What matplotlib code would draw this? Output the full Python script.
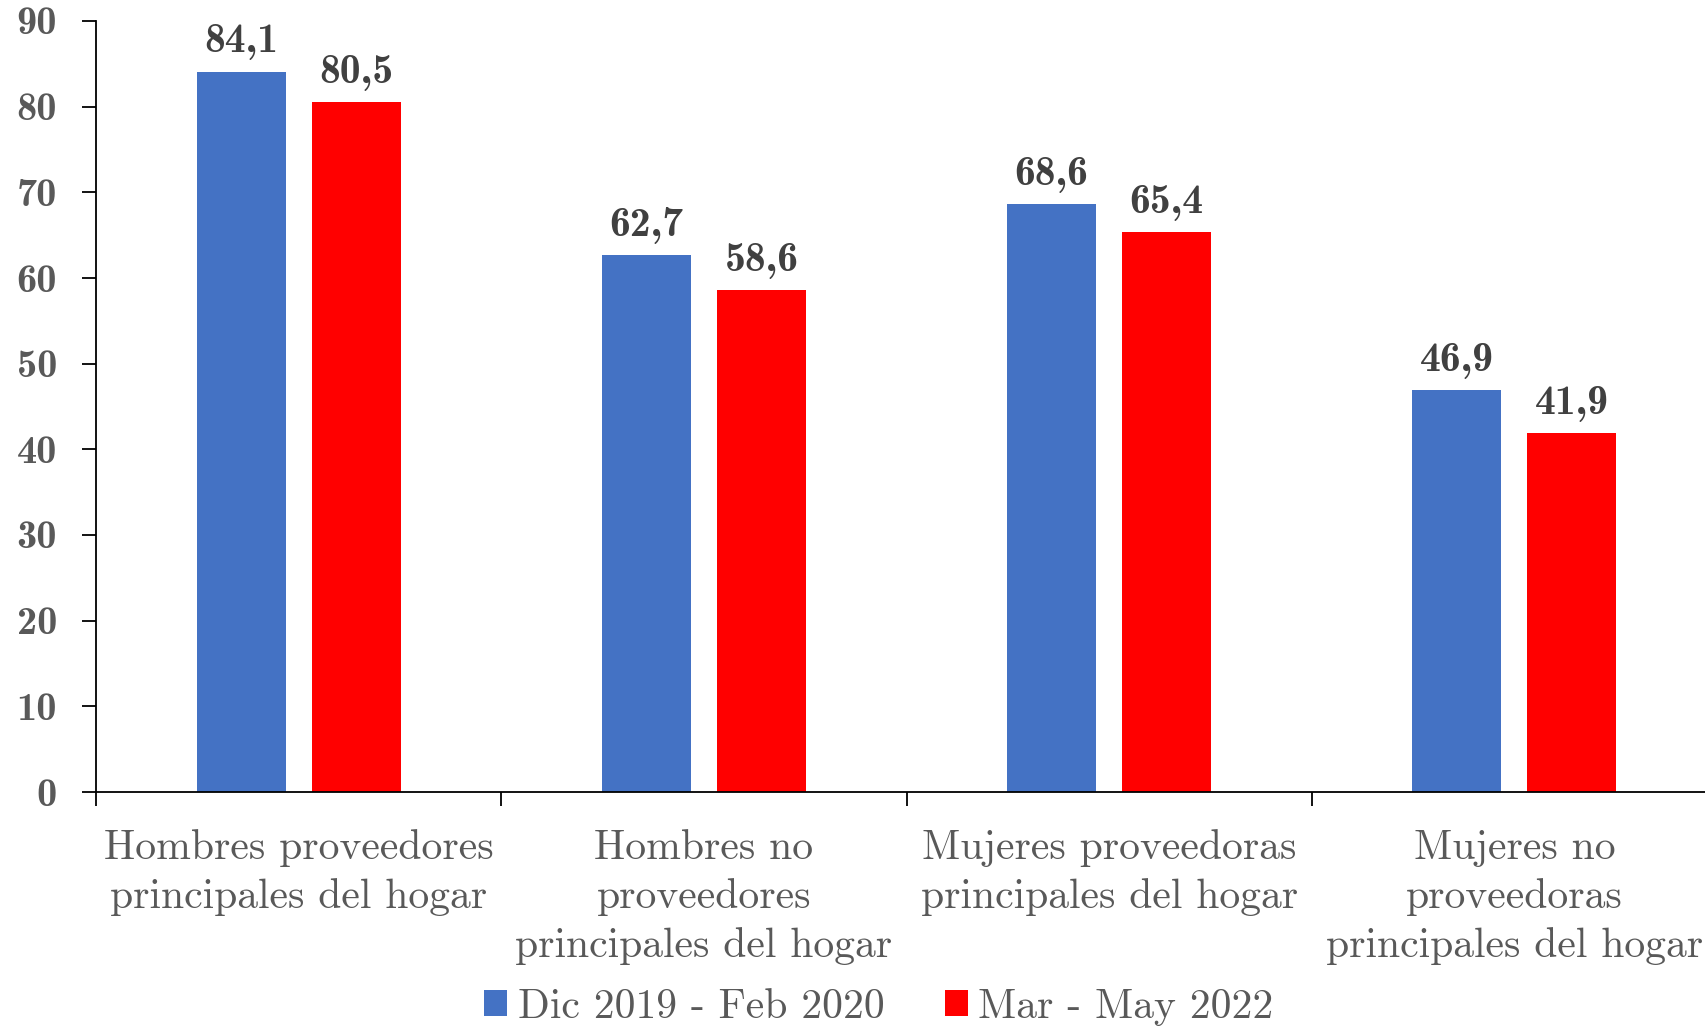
import matplotlib
matplotlib.use("Agg")
import matplotlib.pyplot as plt
import numpy as np
from matplotlib.patches import Patch

categories = ["Hombres proveedores\nprincipales del hogar",
              "Hombres no\nproveedores\nprincipales del hogar",
              "Mujeres proveedoras\nprincipales del hogar",
              "Mujeres no\nproveedoras\nprincipales del hogar"]
series_names = ["Dic 2019 - Feb 2020", "Mar - May 2022"]
dic2019 = [84.1, 62.7, 68.6, 46.9]
mar2022 = [80.5, 58.6, 65.4, 41.9]
yticks = [0, 10, 20, 30, 40, 50, 60, 70, 80, 90]

BLUE = "#4472C4"
RED = "#FF0000"
GRAY = "#595959"
DARK = "#404040"

plt.rcParams['axes.formatter.use_mathtext'] = True

W, H = 1706, 1028
fig = plt.figure(figsize=(W/100, H/100), dpi=100)
ax = fig.add_axes([96/W, 1-792/H, 1621/W, (792-21)/H])

x = np.arange(len(categories))
bw = 0.22
off = 0.142
b1 = ax.bar(x - off, dic2019, bw, color=BLUE)
b2 = ax.bar(x + off, mar2022, bw, color=RED)

def fmt(v):
    return f"{v:.1f}".replace(".", ",")

for bars, vals in ((b1, dic2019), (b2, mar2022)):
    for r, v in zip(bars, vals):
        ax.annotate(fmt(v), (r.get_x() + r.get_width()/2, v), xytext=(0, 8),
                    textcoords="offset points", ha="center", va="bottom",
                    fontfamily="cmb10", fontsize=30, color=DARK)

ax.set_xlim(-0.5, len(categories) - 0.5)
ax.set_ylim(0, 90)
ax.set_yticks(yticks)
ax.set_yticklabels([str(t) for t in yticks], fontfamily="cmb10", fontsize=29, color=GRAY)
ax.tick_params(axis="y", direction="out", length=10, width=1.3, pad=18, colors=GRAY)
ax.tick_params(axis="y", color="black")

# category labels centered, boundary ticks
ax.set_xticks(x)
ax.set_xticklabels(categories, fontfamily="cmr10", fontsize=30, color=GRAY, linespacing=1.37, va="top")
ax.tick_params(axis="x", which="major", length=0, pad=27)
ax.set_xticks(np.arange(len(categories)) - 0.5, minor=True)
ax.tick_params(axis="x", which="minor", length=10, width=1.3, color="black", direction="out")

for s in ("top", "right"):
    ax.spines[s].set_visible(False)
for s in ("left", "bottom"):
    ax.spines[s].set_linewidth(1.3)
    ax.spines[s].set_color("black")

handles = [Patch(facecolor=BLUE, label=series_names[0]),
           Patch(facecolor=RED, label=series_names[1])]
leg = fig.legend(handles=handles, loc="center", bbox_to_anchor=(879/W, 1-1007/H), ncol=2,
                 frameon=False, prop={"family": "cmr10", "size": 30},
                 handlelength=0.55, handleheight=0.55, handletextpad=0.25, columnspacing=1.45,
                 borderpad=0.2)
for t in leg.get_texts():
    t.set_color(GRAY)

fig.savefig("out.png", dpi=100, facecolor="white")
